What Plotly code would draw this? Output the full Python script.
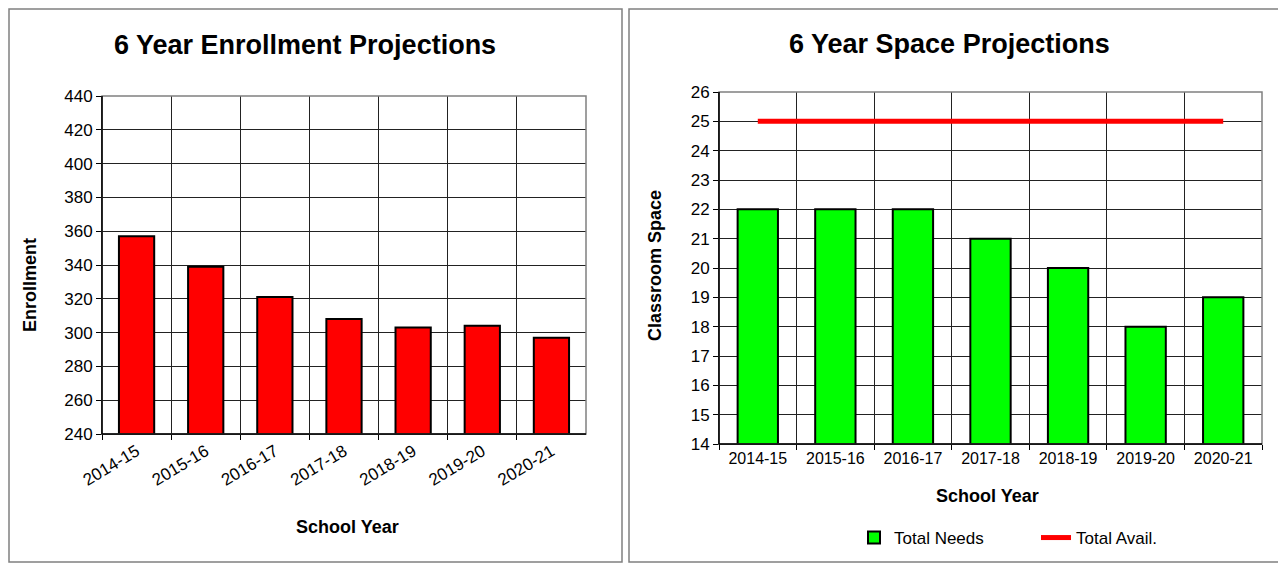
import plotly.graph_objects as go

years = ["2014-15", "2015-16", "2016-17", "2017-18", "2018-19", "2019-20", "2020-21"]
enrollment = [357, 339, 321, 308, 303, 304, 297]
total_needs = [22, 22, 22, 21, 20, 18, 19]
total_avail = [25, 25, 25, 25, 25, 25, 25]

# page has an 8px body margin, so the figure is drawn a bit smaller and positions are page pixels
OFF = 8
W, H = 1286 - 2 * OFF, 571 - 2 * OFF

def px(x):
    return (x - OFF) / W

def py(y):
    return 1 - (y - OFF) / H

FONT = "Liberation Sans, Arial"

fig = go.Figure()

fig.add_trace(go.Bar(x=years, y=enrollment, marker_color="#ff0000", marker_line=dict(color="black", width=2),
                     width=0.51, showlegend=False, xaxis="x", yaxis="y"))
fig.add_trace(go.Bar(x=years, y=total_needs, name="Total Needs", marker_color="#00ff00",
                     marker_line=dict(color="black", width=2), width=0.52, xaxis="x2", yaxis="y2"))
fig.add_trace(go.Scatter(x=years, y=total_avail, name="Total Avail.", mode="lines",
                         line=dict(color="#ff0000", width=5), xaxis="x2", yaxis="y2"))

grid = dict(showgrid=True, gridcolor="#222222", gridwidth=1, showline=True, linecolor="black", linewidth=1,
            ticks="outside", ticklen=5, tickcolor="black", zeroline=False, automargin=False)

fig.update_layout(
    width=W, height=H, margin=dict(l=0, r=0, t=0, b=0),
    paper_bgcolor="white", plot_bgcolor="white",
    font=dict(family=FONT, color="black"),
    xaxis=dict(domain=[px(102), px(586)], anchor="y", type="category", tickson="boundaries",
               tickangle=-31, tickfont=dict(family=FONT, size=17, color="black"), **grid),
    yaxis=dict(domain=[py(434), py(96)], anchor="x", range=[240, 440], dtick=20,
               tickfont=dict(family=FONT, size=17, color="black"), **grid),
    xaxis2=dict(domain=[px(719), px(1262)], anchor="y2", type="category", tickson="boundaries",
                tickangle=0, tickfont=dict(family=FONT, size=16, color="black"), **grid),
    yaxis2=dict(domain=[py(444), py(92)], anchor="x2", range=[14, 26], dtick=1,
                tickfont=dict(family=FONT, size=17, color="black"), **grid),
    legend=dict(orientation="h", x=px(854), y=py(538), xanchor="left", yanchor="middle",
                font=dict(family=FONT, size=17, color="black"),
                bgcolor="rgba(0,0,0,0)", entrywidth=137, tracegroupgap=0),
)

# plot area outlines (gray top/right, black left/bottom)
for xa, ya in [("x", "y"), ("x2", "y2")]:
    fig.add_shape(type="rect", xref=f"{xa} domain", yref=f"{ya} domain", x0=0, x1=1, y0=0, y1=1,
                  line=dict(color="#808080", width=1.5), layer="above")
    fig.add_shape(type="line", xref=f"{xa} domain", yref=f"{ya} domain", x0=0, x1=0, y0=0, y1=1,
                  line=dict(color="black", width=1.5), layer="above")
    fig.add_shape(type="line", xref=f"{xa} domain", yref=f"{ya} domain", x0=0, x1=1, y0=0, y1=0,
                  line=dict(color="black", width=1.5), layer="above")

# panel borders (kept inside the figure area)
fig.add_shape(type="rect", xref="paper", yref="paper", x0=px(9), x1=px(622), y0=py(562), y1=py(9),
              line=dict(color="#808080", width=1.5))
fig.add_shape(type="rect", xref="paper", yref="paper", x0=px(629), x1=px(1300), y0=py(562), y1=py(9),
              line=dict(color="#808080", width=1.5))

title_font = dict(family=FONT, size=27, color="black")
label_font = dict(family=FONT, size=18, color="black")

annotations = [
    dict(text="<b>6 Year Enrollment Projections</b>", x=px(305), y=py(45), font=title_font),
    dict(text="<b>6 Year Space Projections</b>", x=px(949), y=py(44), font=title_font),
    dict(text="<b>Enrollment</b>", x=px(30), y=py(285), font=label_font, textangle=-90),
    dict(text="<b>Classroom Space</b>", x=px(655), y=py(266), font=label_font, textangle=-90),
    dict(text="<b>School Year</b>", x=px(347), y=py(527), font=label_font),
    dict(text="<b>School Year</b>", x=px(987), y=py(496), font=label_font),
]
for a in annotations:
    fig.add_annotation(xref="paper", yref="paper", showarrow=False, xanchor="center", yanchor="middle", **a)

fig.write_html("out.html")
